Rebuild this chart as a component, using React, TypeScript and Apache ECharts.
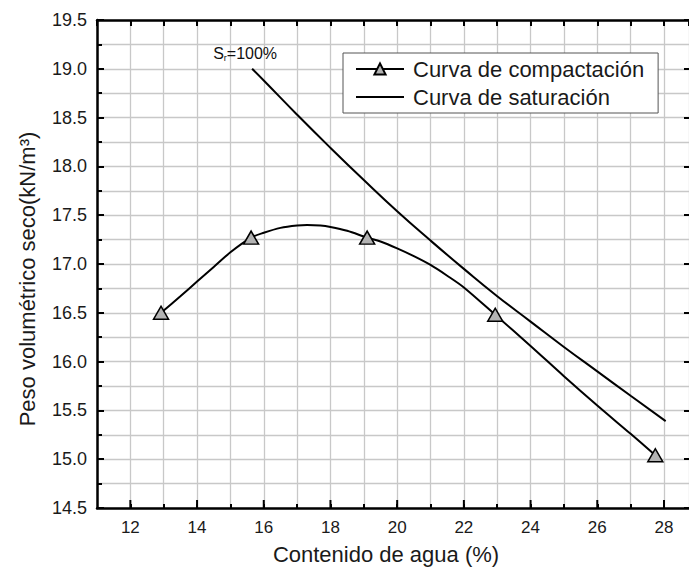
import React, { useEffect, useRef } from "react";
import * as echarts from "echarts";

const compactionW = [12.92, 13.5, 14, 14.5, 15, 15.62, 16, 16.5, 17, 17.3, 17.7, 18, 18.5, 19.1, 19.5, 20, 20.5, 21, 21.5, 22, 22.94, 24, 25, 26, 27, 27.74];
const compactionGamma = [16.5, 16.67, 16.82, 16.97, 17.12, 17.27, 17.32, 17.37, 17.395, 17.4, 17.395, 17.38, 17.34, 17.27, 17.23, 17.16, 17.08, 16.99, 16.88, 16.76, 16.48, 16.16, 15.85, 15.55, 15.26, 15.04];
const compactionMarkers = [12.92, 15.62, 19.1, 22.94, 27.74];
const saturationW = [15.65, 16, 17, 18, 19, 20, 21, 22, 23, 24, 25, 26, 27, 28.05];
const saturationGamma = [19.0, 18.88, 18.53, 18.19, 17.86, 17.54, 17.24, 16.95, 16.67, 16.41, 16.15, 15.9, 15.65, 15.39];
const xMajorTicks = [12, 14, 16, 18, 20, 22, 24, 26, 28];
const seriesNames = ["Curva de compactación", "Curva de saturación"];
const xTitle = "Contenido de agua (%)";
const yTitle = "Peso volumétrico seco(kN/m³)";

const FONT = "'Liberation Sans', Arial, sans-serif";
const GRID = "#c8c8c8";

export default function App() {
  const ref = useRef<HTMLDivElement>(null);
  useEffect(() => {
    if (!ref.current) return;
    const chart = echarts.init(ref.current, null, { renderer: "svg" });
    const compData = compactionW.map((w, i) =>
      compactionMarkers.includes(w)
        ? { value: [w, compactionGamma[i]] }
        : { value: [w, compactionGamma[i]], symbol: "none" }
    );
    const satData = saturationW.map((w, i) => [w, saturationGamma[i]]);
    const axisLine = { show: true, lineStyle: { color: "#000", width: 2.5 } };
    const gridLine = { show: true, lineStyle: { color: GRID, width: 1.3 } };
    chart.setOption({
      animation: false,
      backgroundColor: "#fff",
      grid: { left: 97, top: 20, right: -1, bottom: 63, containLabel: false },
      graphic: [
        {
          type: "text",
          x: 27,
          y: 279,
          rotation: Math.PI / 2,
          style: {
            text: yTitle,
            font: `22px ${FONT}`,
            fill: "#1a1a1a",
            align: "center",
            verticalAlign: "middle",
          },
        },
      ],
      legend: {
        left: 343,
        top: 53,
        orient: "vertical",
        itemWidth: 48,
        itemHeight: 14,
        itemGap: 6,
        padding: [5, 14, 5, 12],
        borderColor: "#555",
        borderWidth: 1,
        backgroundColor: "#fff",
        textStyle: { fontSize: 22, fontFamily: FONT, color: "#1a1a1a", padding: [0, 0, 0, 4] },
        data: [
          { name: seriesNames[0] },
          { name: seriesNames[1], itemStyle: { color: "rgba(0,0,0,0)", borderWidth: 0, borderColor: "rgba(0,0,0,0)" } },
        ],
      },
      xAxis: [
        {
          type: "value",
          min: 11,
          max: 28.75,
          interval: 1,
          position: "bottom",
          name: xTitle,
          nameLocation: "middle",
          nameGap: 35,
          nameTextStyle: { fontSize: 22, fontFamily: FONT, color: "#1a1a1a", padding: [0, 14, 0, 0] },
          axisLine,
          axisTick: { show: true, inside: true, length: 4, lineStyle: { color: "#000", width: 2 } },
          axisLabel: {
            margin: 11,
            fontSize: 17,
            fontFamily: FONT,
            color: "#1a1a1a",
            showMinLabel: false,
            showMaxLabel: false,
            formatter: (v: number) => (Math.abs(v % 2) < 1e-9 ? String(v) : ""),
          },
          splitLine: gridLine,
        },
        {
          type: "value",
          min: 11,
          max: 28.75,
          interval: 1,
          position: "top",
          axisLine,
          axisTick: { show: true, inside: true, length: 6, lineStyle: { color: "#000", width: 2 } },
          axisLabel: { show: false },
          splitLine: { show: false },
        },
      ],
      yAxis: [
        {
          type: "value",
          min: 14.5,
          max: 19.5,
          interval: 0.5,
          position: "left",
          axisLine,
          axisTick: { show: true, inside: true, length: 7, lineStyle: { color: "#000", width: 2 } },
          minorTick: { show: true, splitNumber: 2, length: 5, lineStyle: { color: "#000", width: 2 } },
          axisLabel: {
            margin: 10,
            fontSize: 18,
            fontFamily: FONT,
            color: "#1a1a1a",
            formatter: (v: number) => v.toFixed(1),
          },
          splitLine: gridLine,
          minorSplitLine: gridLine,
        },
        {
          type: "value",
          min: 14.5,
          max: 19.5,
          interval: 0.5,
          position: "right",
          axisLine: { show: false },
          axisTick: { show: true, inside: true, length: 5, lineStyle: { color: "#000", width: 2 } },
          axisLabel: { show: false },
          splitLine: { show: false },
        },
      ],
      series: [
        {
          name: seriesNames[0],
          type: "line",
          smooth: 0.3,
          data: compData,
          symbol: "triangle",
          symbolSize: [15, 13],
          showAllSymbol: true,
          lineStyle: { color: "#000", width: 2 },
          itemStyle: { color: "#b3b3b3", borderColor: "#000", borderWidth: 1.5 },
          z: 3,
        },
        {
          name: seriesNames[1],
          type: "line",
          smooth: true,
          data: satData,
          symbol: "none",
          lineStyle: { color: "#000", width: 2 },
          itemStyle: { color: "#000" },
          z: 2,
          markPoint: {
            symbol: "circle",
            symbolSize: 1,
            itemStyle: { color: "rgba(0,0,0,0)" },
            label: {
              show: true,
              position: "top",
              offset: [-7, -1],
              formatter: "{s|S}{sub|r}{s|=100%}",
              rich: {
                s: { fontSize: 16, fontFamily: FONT, color: "#111", lineHeight: 18 },
                sub: { fontSize: 9, fontFamily: FONT, color: "#111", lineHeight: 18, padding: [10, 0, 0, 0] },
              },
            },
            data: [{ coord: [saturationW[0], saturationGamma[0]] }],
          },
        },
        {
          name: "majorTicks",
          type: "custom",
          silent: true,
          z: 6,
          data: xMajorTicks.map((v) => [v, 14.5]),
          renderItem: (params: any, api: any) => {
            const p = api.coord([api.value(0), api.value(1)]);
            return {
              type: "line",
              shape: { x1: p[0], y1: p[1], x2: p[0], y2: p[1] - 8 },
              style: { stroke: "#000", lineWidth: 2 },
            };
          },
        },
      ],
    });
    return () => chart.dispose();
  }, []);
  return <div ref={ref} style={{ position: "fixed", left: 0, top: 0, width: 689, height: 571 }} />;
}
